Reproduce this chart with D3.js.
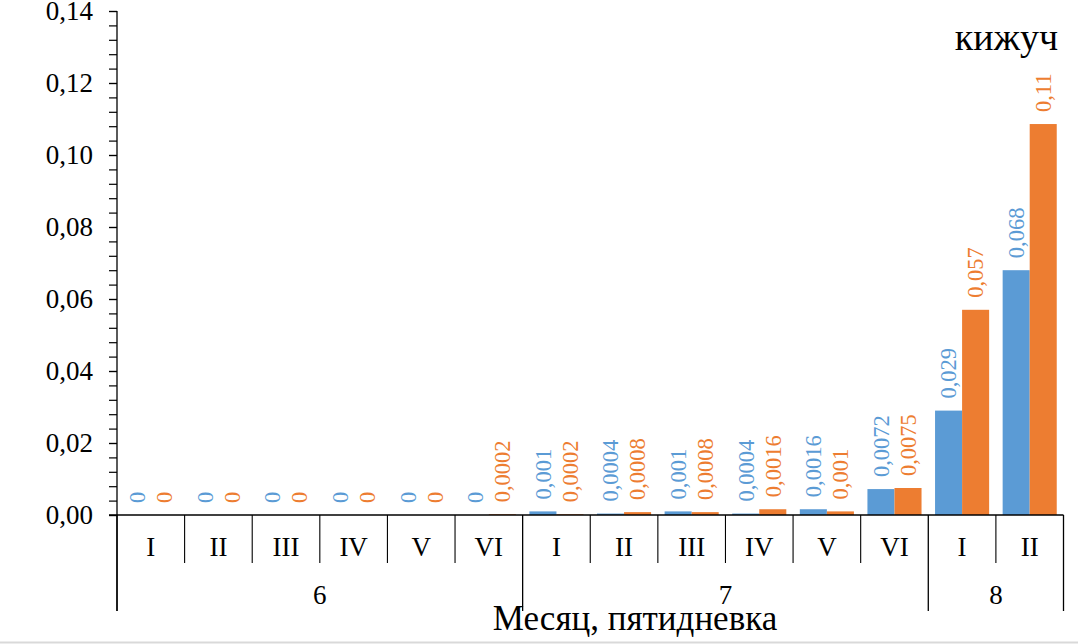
<!DOCTYPE html>
<html>
<head>
<meta charset="utf-8">
<script src="https://cdn.jsdelivr.net/npm/d3@7/dist/d3.min.js"></script>
<style>
  html, body { margin: 0; padding: 0; background: #fff; }
  svg { display: block; }
  text { font-family: "Liberation Serif", "Times New Roman", serif; }
</style>
</head>
<body>
<svg id="chart" width="1078" height="644"></svg>
<script>
// ---- data ----
const pentads = ["I","II","III","IV","V","VI","I","II","III","IV","V","VI","I","II"];
const monthOfPentad = ["6","6","6","6","6","6","7","7","7","7","7","7","8","8"];
const months = ["6","7","8"];
const seriesBlue   = [0, 0, 0, 0, 0, 0,      0.001,  0.0004, 0.001,  0.0004, 0.0016, 0.0072, 0.029, 0.068];
const seriesOrange = [0, 0, 0, 0, 0, 0.0002, 0.0002, 0.0008, 0.0008, 0.0016, 0.001,  0.0075, 0.057, 0.1086];
const yTicks = [0, 0.02, 0.04, 0.06, 0.08, 0.10, 0.12, 0.14];
const seriesNames = ["blue", "orange"];
const colors = ["#5B9BD5", "#ED7D31"];
const chartTitle = "кижуч";
const xTitle = "Месяц, пятидневка";

// ---- layout ----
const FONT = "'Liberation Serif', 'Times New Roman', serif";
const svg = d3.select("#chart");
const mLeft = 117, mRight = 1063.5, mTop = 11, mBottom = 515;

const idx = d3.range(pentads.length);
const x = d3.scaleBand().domain(idx).range([mLeft, mRight]).padding(0);
const bw = x.bandwidth();
const x1 = d3.scaleBand().domain(seriesNames).range([bw * 0.1, bw * 0.9]).padding(0);
const y = d3.scaleLinear().domain([0, 0.14]).range([mBottom, mTop]);

const fmt = v => d3.format(".2~r")(v).replace(".", ",");
const fmtTick = v => d3.format(".2f")(v).replace(".", ",");

// bars
const data = idx.map(i => ({ i, vals: [seriesBlue[i], seriesOrange[i]] }));
const g = svg.append("g");
data.forEach(d => {
  d.vals.forEach((v, s) => {
    const bx = x(d.i) + x1(seriesNames[s]);
    g.append("rect")
      .attr("x", bx).attr("width", x1.bandwidth())
      .attr("y", y(v)).attr("height", y(0) - y(v))
      .attr("fill", colors[s]);
    const cx = bx + x1.bandwidth() / 2;
    const ty = y(v) - 12;
    g.append("text")
      .attr("transform", `translate(${cx},${ty}) rotate(-90)`)
      .attr("dy", "0.35em")
      .attr("text-anchor", "start")
      .attr("fill", colors[s])
      .attr("font-family", FONT)
      .style("font-size", "22.5px")
      .text(fmt(v));
  });
});

// y axis
const minorTicks = d3.range(0, 0.1400001, 0.004);
const yAxis = d3.axisLeft(y).tickValues(minorTicks).tickSize(8).tickFormat("");
const ya = svg.append("g").attr("transform", `translate(${mLeft},0)`).call(yAxis);
ya.select(".domain").remove();
ya.selectAll(".tick line").attr("stroke", "#000").attr("stroke-width", 1.2);
const yAxisMajor = d3.axisLeft(y).tickValues(yTicks).tickSize(8).tickPadding(16).tickFormat(fmtTick);
const yb = svg.append("g").attr("transform", `translate(${mLeft},0)`).attr("font-family", FONT).call(yAxisMajor);
yb.attr("font-family", FONT);
yb.select(".domain").remove();
yb.selectAll(".tick line").attr("stroke", "#000").attr("stroke-width", 1.2);
yb.selectAll(".tick text").attr("fill", "#000").attr("font-family", FONT).style("font-size", "27px");

// axis lines
svg.append("line").attr("x1", mLeft).attr("x2", mLeft).attr("y1", mTop).attr("y2", 611)
  .attr("stroke", "#000").attr("stroke-width", 1.3);
svg.append("line").attr("x1", mLeft - 8).attr("x2", mRight).attr("y1", mBottom).attr("y2", mBottom)
  .attr("stroke", "#000").attr("stroke-width", 1.3);

// pentad separators and labels
idx.forEach(i => {
  const bx = x(i);
  const isMonthStart = i === 0 || monthOfPentad[i] !== monthOfPentad[i - 1];
  svg.append("line").attr("x1", bx).attr("x2", bx).attr("y1", mBottom).attr("y2", isMonthStart ? 611 : 563)
    .attr("stroke", "#000").attr("stroke-width", isMonthStart ? 1.3 : 1.1);
  svg.append("text").attr("x", bx + bw / 2).attr("y", 556).attr("text-anchor", "middle")
    .attr("font-family", FONT).style("font-size", "27px").attr("fill", "#000").text(pentads[i]);
});
svg.append("line").attr("x1", mRight).attr("x2", mRight).attr("y1", mBottom).attr("y2", 611)
  .attr("stroke", "#000").attr("stroke-width", 1.3);

// month labels
months.forEach(m => {
  const ids = idx.filter(i => monthOfPentad[i] === m);
  const x0 = x(ids[0]), xN = x(ids[ids.length - 1]) + bw;
  svg.append("text").attr("x", (x0 + xN) / 2).attr("y", 604).attr("text-anchor", "middle")
    .attr("font-family", FONT).style("font-size", "27px").attr("fill", "#000").text(m);
});

// titles
svg.append("text").attr("x", 635).attr("y", 630).attr("text-anchor", "middle")
  .attr("font-family", FONT).style("font-size", "35px").attr("fill", "#000").text(xTitle);
svg.append("text").attr("x", 1058).attr("y", 50).attr("text-anchor", "end")
  .attr("font-family", FONT).style("font-size", "38px").attr("fill", "#000").text(chartTitle);

// bottom border line
svg.append("line").attr("x1", 0).attr("x2", 1078).attr("y1", 642.5).attr("y2", 642.5)
  .attr("stroke", "#d9d9d9").attr("stroke-width", 2);
</script>
</body>
</html>
